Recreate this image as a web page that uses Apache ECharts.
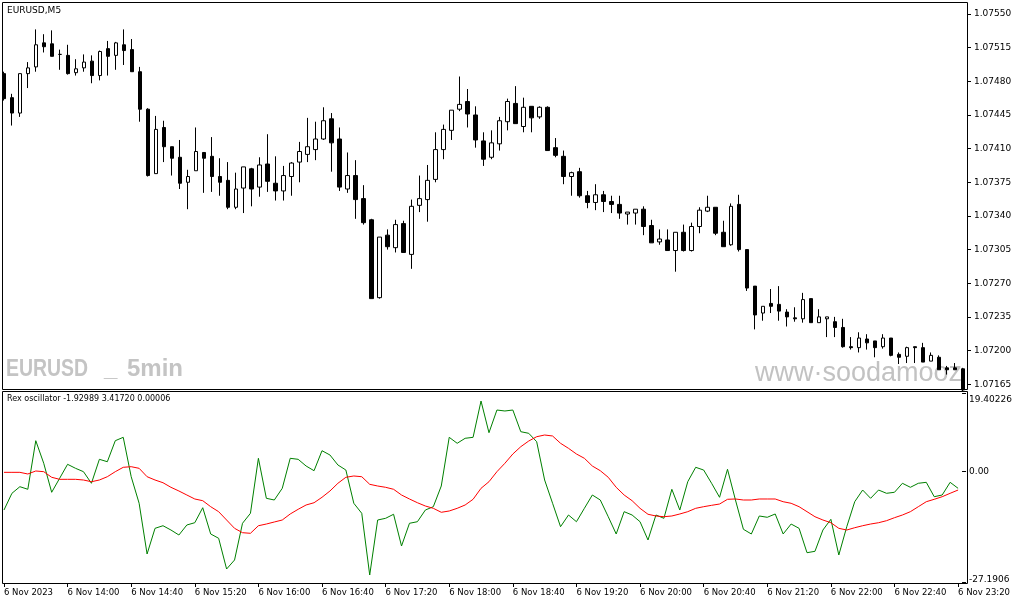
<!DOCTYPE html>
<html>
<head>
<meta charset="utf-8">
<title>EURUSD,M5</title>
<script src="https://cdn.jsdelivr.net/npm/echarts@6.0.0/dist/echarts.min.js"></script>
<style>
  html, body { margin: 0; padding: 0; background: #ffffff; }
  #chart { width: 1015px; height: 605px; }
</style>
</head>
<body>
<div id="chart"></div>
<script>
/*** data ***/
// bar times, 5 min each, 13:20 .. 23:20
var times = [];
for (var t = 13 * 60 + 20; t <= 23 * 60 + 20; t += 5) {
  times.push(Math.floor(t / 60) + ':' + ('0' + (t % 60)).slice(-2));
}

var open = [
  1.07488, 1.07463, 1.07447, 1.07488, 1.07495, 1.07520, 1.07519, 1.07508, 1.07507, 1.07489,
  1.07494, 1.07501, 1.07486, 1.07514, 1.07507, 1.07518, 1.07513, 1.07490, 1.07451, 1.07384,
  1.07432, 1.07412, 1.07401, 1.07375, 1.07387, 1.07406, 1.07402, 1.07381, 1.07377, 1.07349,
  1.07369, 1.07389, 1.07370, 1.07394, 1.07374, 1.07366, 1.07381, 1.07396, 1.07404, 1.07409,
  1.07420, 1.07441, 1.07420, 1.07368, 1.07382, 1.07358, 1.07336, 1.07255, 1.07320, 1.07307,
  1.07332, 1.07300, 1.07351, 1.07357, 1.07378, 1.07409, 1.07429, 1.07451, 1.07459, 1.07445,
  1.07418, 1.07401, 1.07415, 1.07438, 1.07457, 1.07433, 1.07454, 1.07443, 1.07453, 1.07411,
  1.07402, 1.07381, 1.07386, 1.07361, 1.07354, 1.07362, 1.07355, 1.07352, 1.07342, 1.07343,
  1.07347, 1.07330, 1.07313, 1.07315, 1.07304, 1.07323, 1.07304, 1.07329, 1.07345, 1.07349,
  1.07323, 1.07310, 1.07352, 1.07305, 1.07267, 1.07239, 1.07249, 1.07248, 1.07240, 1.07234,
  1.07233, 1.07254, 1.07229, 1.07233, 1.07230, 1.07224, 1.07204, 1.07203, 1.07212, 1.07210,
  1.07204, 1.07213, 1.07196, 1.07194, 1.07204, 1.07203, 1.07189, 1.07193, 1.07182, 1.07182,
  1.07181
];
var close = [
  1.07462, 1.07447, 1.07488, 1.07494, 1.07518, 1.07516, 1.07506, 1.07508, 1.07488, 1.07493,
  1.07500, 1.07486, 1.07511, 1.07506, 1.07520, 1.07512, 1.07490, 1.07451, 1.07382, 1.07430,
  1.07412, 1.07400, 1.07374, 1.07381, 1.07407, 1.07400, 1.07381, 1.07375, 1.07349, 1.07368,
  1.07391, 1.07368, 1.07393, 1.07376, 1.07366, 1.07382, 1.07395, 1.07407, 1.07412, 1.07420,
  1.07439, 1.07416, 1.07370, 1.07382, 1.07357, 1.07333, 1.07254, 1.07318, 1.07308, 1.07331,
  1.07302, 1.07350, 1.07358, 1.07377, 1.07409, 1.07430, 1.07450, 1.07456, 1.07446, 1.07419,
  1.07399, 1.07416, 1.07439, 1.07459, 1.07436, 1.07453, 1.07442, 1.07453, 1.07408, 1.07403,
  1.07381, 1.07385, 1.07361, 1.07354, 1.07362, 1.07355, 1.07352, 1.07343, 1.07344, 1.07347,
  1.07329, 1.07312, 1.07316, 1.07304, 1.07323, 1.07304, 1.07329, 1.07346, 1.07349, 1.07322,
  1.07308, 1.07350, 1.07305, 1.07265, 1.07237, 1.07246, 1.07246, 1.07241, 1.07235, 1.07233,
  1.07253, 1.07229, 1.07235, 1.07235, 1.07224, 1.07204, 1.07203, 1.07213, 1.07208, 1.07203,
  1.07213, 1.07195, 1.07193, 1.07203, 1.07203, 1.07188, 1.07195, 1.07180, 1.07180, 1.07180,
  1.07159
];
var low = [
  1.07460, 1.07434, 1.07443, 1.07473, 1.07490, 1.07510, 1.07506, 1.07492, 1.07487, 1.07486,
  1.07490, 1.07478, 1.07481, 1.07486, 1.07492, 1.07497, 1.07490, 1.07438, 1.07381, 1.07384,
  1.07396, 1.07382, 1.07368, 1.07347, 1.07387, 1.07364, 1.07365, 1.07361, 1.07347, 1.07347,
  1.07343, 1.07350, 1.07360, 1.07365, 1.07356, 1.07356, 1.07361, 1.07375, 1.07396, 1.07398,
  1.07419, 1.07386, 1.07366, 1.07364, 1.07337, 1.07331, 1.07254, 1.07254, 1.07305, 1.07302,
  1.07302, 1.07285, 1.07344, 1.07334, 1.07375, 1.07399, 1.07419, 1.07449, 1.07432, 1.07411,
  1.07392, 1.07399, 1.07408, 1.07429, 1.07436, 1.07427, 1.07427, 1.07441, 1.07408, 1.07401,
  1.07373, 1.07361, 1.07359, 1.07348, 1.07346, 1.07344, 1.07343, 1.07337, 1.07331, 1.07331,
  1.07320, 1.07312, 1.07310, 1.07304, 1.07282, 1.07303, 1.07303, 1.07322, 1.07344, 1.07320,
  1.07308, 1.07309, 1.07303, 1.07262, 1.07222, 1.07231, 1.07239, 1.07231, 1.07225, 1.07230,
  1.07229, 1.07229, 1.07229, 1.07214, 1.07214, 1.07203, 1.07201, 1.07198, 1.07201, 1.07193,
  1.07202, 1.07194, 1.07186, 1.07187, 1.07187, 1.07188, 1.07189, 1.07180, 1.07175, 1.07180,
  1.07157
];
var high = [
  1.07490, 1.07467, 1.07488, 1.07500, 1.07534, 1.07529, 1.07533, 1.07513, 1.07518, 1.07503,
  1.07508, 1.07507, 1.07512, 1.07522, 1.07521, 1.07534, 1.07524, 1.07495, 1.07452, 1.07444,
  1.07439, 1.07412, 1.07419, 1.07388, 1.07432, 1.07406, 1.07422, 1.07400, 1.07396, 1.07385,
  1.07391, 1.07390, 1.07401, 1.07425, 1.07402, 1.07392, 1.07396, 1.07417, 1.07442, 1.07438,
  1.07453, 1.07447, 1.07432, 1.07406, 1.07398, 1.07372, 1.07337, 1.07318, 1.07326, 1.07336,
  1.07335, 1.07357, 1.07382, 1.07393, 1.07427, 1.07435, 1.07450, 1.07485, 1.07472, 1.07454,
  1.07427, 1.07429, 1.07443, 1.07462, 1.07475, 1.07463, 1.07454, 1.07454, 1.07454, 1.07421,
  1.07408, 1.07386, 1.07390, 1.07366, 1.07373, 1.07366, 1.07361, 1.07361, 1.07344, 1.07347,
  1.07350, 1.07336, 1.07326, 1.07326, 1.07323, 1.07331, 1.07333, 1.07349, 1.07361, 1.07349,
  1.07335, 1.07353, 1.07362, 1.07305, 1.07267, 1.07246, 1.07264, 1.07267, 1.07243, 1.07245,
  1.07260, 1.07254, 1.07243, 1.07235, 1.07235, 1.07233, 1.07214, 1.07219, 1.07217, 1.07210,
  1.07217, 1.07213, 1.07198, 1.07204, 1.07204, 1.07208, 1.07198, 1.07195, 1.07184, 1.07187,
  1.07182
];

// Rex oscillator: main line (green) and signal line (red)
var rexLine = [
  -9.44, -5.32, -3.69, -4.33, 7.65, 2.08, -5.07, -1.62, 1.83, 0.84,
  0.01, -2.85, 3.06, 2.47, 7.65, 8.48, -1.23, -7.78, -20.28, -13.95,
  -13.31, -14.37, -15.60, -13.13, -12.57, -8.87, -15.35, -16.41, -23.98, -21.76,
  -12.71, -10.25, 3.31, -6.55, -6.97, -4.09, 3.31, 3.06, 1.41, 0.25,
  5.18, 4.12, 1.66, 0.42, -7.78, -10.25, -25.46, -11.90, -11.48, -10.49,
  -18.31, -12.71, -12.32, -9.44, -8.62, -3.52, 8.48, 7.01, 8.24, 8.48,
  17.43, 9.62, 15.21, 14.97, 15.21, 9.87, 9.47, 7.40, -2.04, -7.78,
  -13.55, -10.67, -12.32, -9.02, -5.74, -6.97, -11.09, -15.35, -9.85, -10.67,
  -12.32, -16.83, -10.67, -11.48, -4.33, -9.44, -2.46, 1.09, 0.42, -2.85,
  -6.30, 0.60, -6.97, -14.19, -15.35, -10.91, -11.23, -10.42, -15.35, -12.89,
  -13.95, -19.96, -19.62, -14.37, -11.73, -20.53, -13.55, -7.39, -4.51, -6.55,
  -4.51, -5.32, -5.07, -2.85, -3.84, -2.85, -2.61, -6.16, -5.74, -2.61,
  -4.09
];
var rexSignal = [
  -0.15, -0.15, -0.15, -0.56, 0.18, 0.01, -1.37, -1.87, -1.87, -1.87,
  -2.04, -2.46, -2.04, -1.23, 0.01, 1.09, 1.24, 0.84, -1.23, -2.04,
  -2.71, -3.84, -4.75, -5.74, -6.72, -7.14, -8.62, -9.85, -11.90, -13.95,
  -15.03, -15.18, -13.31, -12.89, -12.39, -11.90, -10.42, -9.26, -8.20, -7.64,
  -6.30, -4.75, -2.85, -1.37, -1.05, -1.23, -3.10, -3.52, -3.84, -4.33,
  -5.74, -6.72, -7.64, -8.45, -9.02, -10.00, -9.68, -9.02, -8.20, -6.80,
  -4.09, -2.46, 0.01, 2.08, 4.37, 6.17, 7.57, 8.63, 9.05, 8.81,
  7.01, 5.77, 4.37, 3.31, 1.41, 0.25, -1.37, -3.84, -5.74, -7.14,
  -9.02, -10.49, -10.91, -11.09, -10.91, -10.42, -9.85, -9.02, -8.62, -8.28,
  -7.96, -6.80, -6.72, -6.97, -6.97, -6.72, -6.72, -6.72, -7.39, -7.78,
  -8.62, -9.85, -11.09, -11.90, -12.57, -13.95, -14.37, -13.80, -13.31, -12.89,
  -12.57, -12.07, -11.33, -10.67, -9.85, -8.62, -7.39, -6.80, -6.16, -5.32,
  -4.51
];

// axis labels
var priceTicks = [1.07165, 1.07200, 1.07235, 1.07270, 1.07305, 1.07340, 1.07375, 1.07410, 1.07445, 1.07480, 1.07515, 1.07550];
var rexTicks = [-27.1906, 0, 19.40226];

/*** chart ***/
var candles = [];
for (var i = 0; i < times.length; i++) {
  candles.push([open[i], close[i], low[i], high[i]]);
}

var axisFont = 'DejaVu Sans';
var markFont = 'bold 24px "Liberation Sans"';
var myChart = echarts.init(document.getElementById('chart'), null, { renderer: 'canvas' });

var option = {
  animation: false,
  backgroundColor: '#ffffff',
  grid: [
    { left: -1, top: 2, width: 968, height: 387, show: false },
    { left: -1, top: 391, width: 968, height: 192, show: false }
  ],
  xAxis: [
    {
      type: 'category', gridIndex: 0, data: times, boundaryGap: true, position: 'bottom',
      axisLine: { show: false, onZero: false }, axisTick: { show: false }, axisLabel: { show: false }, splitLine: { show: false }
    },
    {
      type: 'category', gridIndex: 1, data: times, boundaryGap: true, position: 'bottom',
      axisLine: { show: false, onZero: false },
      axisTick: { show: true, alignWithLabel: true, interval: 7, length: 4, lineStyle: { color: '#000000' } },
      axisLabel: {
        interval: 7, align: 'left', margin: 5,
        fontFamily: axisFont, fontSize: 8.5, color: '#000000',
        formatter: function (val, idx) {
          return idx === 0 ? '6 Nov 2023' : '6 Nov ' + val;
        }
      },
      splitLine: { show: false }
    }
  ],
  yAxis: [
    {
      type: 'value', gridIndex: 0, position: 'right', min: 1.07160, max: 1.075625,
      axisLine: { show: false },
      axisTick: { show: true, customValues: priceTicks, length: 4, lineStyle: { color: '#000000' } },
      axisLabel: {
        customValues: priceTicks, margin: 7,
        fontFamily: axisFont, fontSize: 9, color: '#000000',
        formatter: function (v) { return v.toFixed(5); }
      },
      splitLine: { show: false }
    },
    {
      type: 'value', gridIndex: 1, position: 'right', min: -27.43, max: 19.90,
      axisLine: { show: false },
      axisTick: { show: true, customValues: rexTicks, length: 4, lineStyle: { color: '#000000' } },
      axisLabel: {
        customValues: rexTicks, margin: 7,
        fontFamily: axisFont, fontSize: 9, color: '#000000',
        formatter: function (v) {
          if (v > 1) return '{top|' + v + '}';
          if (v < -1) return '{bot|' + v + '}';
          return '0.00';
        },
        rich: {
          top: { fontFamily: axisFont, fontSize: 9, color: '#000000', padding: [14, 0, 0, 0] },
          bot: { fontFamily: axisFont, fontSize: 9, color: '#000000', padding: [0, 0, 4, 0] }
        }
      },
      splitLine: { show: false }
    }
  ],
  series: [
    {
      name: 'EURUSD',
      type: 'candlestick',
      xAxisIndex: 0, yAxisIndex: 0,
      data: candles,
      barWidth: 4,
      clip: true,
      itemStyle: {
        color: '#ffffff', color0: '#000000',
        borderColor: '#000000', borderColor0: '#000000', borderWidth: 1
      }
    },
    {
      name: 'Rex',
      type: 'line',
      xAxisIndex: 1, yAxisIndex: 1,
      data: rexLine,
      showSymbol: false, symbol: 'none',
      lineStyle: { color: '#008000', width: 1 }
    },
    {
      name: 'Signal',
      type: 'line',
      xAxisIndex: 1, yAxisIndex: 1,
      data: rexSignal,
      showSymbol: false, symbol: 'none',
      lineStyle: { color: '#ff0000', width: 1 }
    }
  ],
  graphic: [
    // watermarks (behind the candles)
    { type: 'text', x: 6, y: 357, scaleX: 0.81, z: 0, style: { text: 'EURUSD', font: markFont, fill: '#c4c4c4' } },
    { type: 'text', x: 104, y: 357, z: 0, style: { text: '_', font: markFont, fill: '#c4c4c4' } },
    { type: 'text', x: 127, y: 357, z: 0, style: { text: '5min', font: markFont, fill: '#c4c4c4' } },
    { type: 'text', x: 755, y: 360, z: 0, style: { text: 'www\u00b7soodamooz', font: '27px "Liberation Sans"', fill: '#c2c2c2' } },
    // pane titles
    { type: 'text', left: 7, top: 6, z: 50, style: { text: 'EURUSD,M5', font: '9px "DejaVu Sans"', fill: '#000000' } },
    { type: 'text', left: 7, top: 395, z: 50, style: { text: 'Rex oscillator -1.92989 3.41720 0.00006', font: '8px "DejaVu Sans"', fill: '#000000' } },
    // pane frames
    { type: 'rect', z: 100, shape: { x: 2.5, y: 2.5, width: 965, height: 387 }, style: { fill: 'none', stroke: '#000000', lineWidth: 1 } },
    { type: 'rect', z: 100, shape: { x: 2.5, y: 391.5, width: 965, height: 192 }, style: { fill: 'none', stroke: '#000000', lineWidth: 1 } }
  ]
};

myChart.setOption(option);
</script>
</body>
</html>
